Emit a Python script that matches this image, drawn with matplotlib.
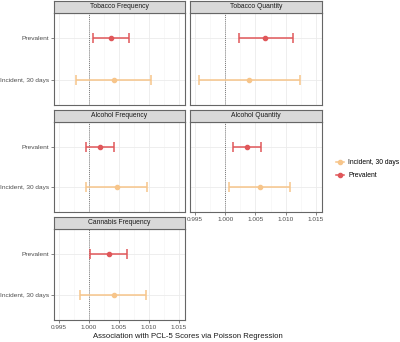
import matplotlib
matplotlib.use("Agg")
import matplotlib.pyplot as plt
from matplotlib.lines import Line2D

plt.rcParams['font.family'] = ['Liberation Sans', 'DejaVu Sans']

panels = ["Tobacco Frequency", "Tobacco Quantity", "Alcohol Frequency", "Alcohol Quantity", "Cannabis Frequency"]
groups = ["Incident, 30 days", "Prevalent"]

# estimates, lower, upper per panel: [incident, prevalent]
est = {
    "Tobacco Frequency":  [1.0041, 1.0037],
    "Tobacco Quantity":   [1.0039, 1.0066],
    "Alcohol Frequency":  [1.0046, 1.0018],
    "Alcohol Quantity":   [1.0057, 1.0036],
    "Cannabis Frequency": [1.0041, 1.0033],
}
low = {
    "Tobacco Frequency":  [0.9978, 1.0006],
    "Tobacco Quantity":   [0.9956, 1.0022],
    "Alcohol Frequency":  [0.9995, 0.99955],
    "Alcohol Quantity":   [1.0007, 1.0012],
    "Cannabis Frequency": [0.9985, 1.0002],
}
high = {
    "Tobacco Frequency":  [1.0103, 1.0066],
    "Tobacco Quantity":   [1.0124, 1.0112],
    "Alcohol Frequency":  [1.0096, 1.0041],
    "Alcohol Quantity":   [1.0107, 1.0059],
    "Cannabis Frequency": [1.0095, 1.0064],
}
xticks = [0.995, 1.000, 1.005, 1.010, 1.015]
xticklabels = ["0.995", "1.000", "1.005", "1.010", "1.015"]
colors = ["#F7C58A", "#E0575A"]

W, H = 400, 342
fig = plt.figure(figsize=(W / 100, H / 100), dpi=100)

cols = [(54, 185), (190, 322)]
rows = [(13, 105), (122, 212), (229, 320)]
strip_h = 12

def fx(px):
    return px / W

def fy(py):
    return 1 - py / H

for i, name in enumerate(panels):
    r, c = divmod(i, 2)
    x0, x1 = cols[c]
    y0, y1 = rows[r]
    ax = fig.add_axes([fx(x0), fy(y1), fx(x1) - fx(x0), fy(y0) - fy(y1)])
    ax.set_xlim(0.99417, 1.0160)
    ax.set_ylim(0.4, 2.6)
    ax.set_xticks(xticks)
    ax.set_xticks([0.9975, 1.0025, 1.0075, 1.0125], minor=True)
    ax.set_yticks([1, 2])
    ax.grid(True, which='major', color='#EBEBEB', lw=0.6)
    ax.grid(True, which='minor', axis='x', color='#F4F4F4', lw=0.4)
    ax.set_axisbelow(True)
    ax.axvline(1.0, color='#555555', lw=0.6, ls=(0, (1, 1.5)), zorder=1)
    for g in range(2):
        yv = g + 1
        e = est[name][g]
        ax.errorbar([e], [yv], xerr=[[e - low[name][g]], [high[name][g] - e]],
                    fmt='o', color=colors[g], ms=3, lw=1.1, capsize=3.5,
                    capthick=1.1, zorder=3)
    for s in ax.spines.values():
        s.set_color('#666666')
        s.set_linewidth(0.8)
    ax.tick_params(which='both', length=2, width=0.5, color='#555555',
                   labelsize=4.6, labelcolor='#4D4D4D', pad=1.5)
    ax.tick_params(which='minor', length=0)
    show_x = (r == 2) or (r == 1 and c == 1)
    if show_x:
        ax.set_xticklabels(xticklabels)
    else:
        ax.set_xticklabels([])
        ax.tick_params(axis='x', length=0)
    if c == 0:
        ax.set_yticklabels(groups, fontsize=4.65)
        ax.tick_params(axis='y', pad=1.2)
    else:
        ax.set_yticklabels([])
        ax.tick_params(axis='y', length=0)
    sax = fig.add_axes([fx(x0), fy(y0), fx(x1) - fx(x0), strip_h / H])
    sax.set_facecolor('#D9D9D9')
    sax.set_xticks([])
    sax.set_yticks([])
    for s in sax.spines.values():
        s.set_color('#666666')
        s.set_linewidth(0.8)
    sax.text(0.5, 0.5, name, ha='center', va='center', fontsize=4.9,
             color='#1A1A1A', transform=sax.transAxes)

handles = [Line2D([0], [0], color=colors[g], marker='o', ms=3, lw=1.1) for g in range(2)]
fig.legend(handles, groups, loc='center left', bbox_to_anchor=(fx(330), fy(169)),
           frameon=False, fontsize=4.9, handlelength=1.2, handletextpad=0.6,
           labelspacing=0.9)

fig.text(fx(188), fy(337), "Association with PCL-5 Scores via Poisson Regression",
         ha='center', va='center', fontsize=5.6, color='#1A1A1A')

fig.savefig("out.png", dpi=100)
